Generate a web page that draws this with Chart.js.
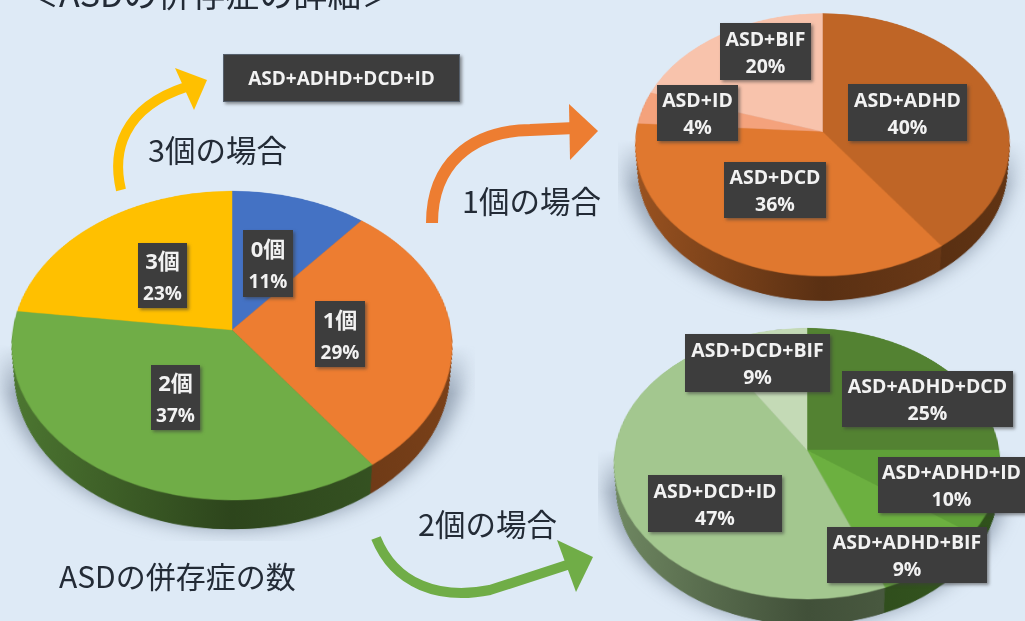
<!DOCTYPE html>
<html lang="ja">
<head>
<meta charset="utf-8">
<title>ASDの併存症</title>
<script src="https://cdn.jsdelivr.net/npm/chart.js@4"></script>
<style>
html, body { margin: 0; padding: 0; }
body {
    position: relative; width: 1025px; height: 621px; overflow: hidden;
    background: #deeaf6; font-family: "Noto Sans CJK JP", sans-serif;
}
canvas { position: absolute; }
svg { position: absolute; left: 0; top: 0; }
.txt { position: absolute; color: #232b36; white-space: nowrap; line-height: 1; }
.box {
    position: absolute; box-sizing: border-box; background: #3d3d3d; color: #f2f2f2;
    display: flex; flex-direction: column; align-items: center; justify-content: center;
    font-family: "Open Sans", "Noto Sans CJK JP", sans-serif; font-weight: 700;
    white-space: nowrap; box-shadow: 2px 2px 3px rgba(60,60,60,.55);
}
.shadowClip {
    position: absolute; overflow: hidden;
    -webkit-mask-image: linear-gradient(transparent, #000 25%);
    mask-image: linear-gradient(transparent, #000 25%);
}
.shadowClip div { position: absolute; border-radius: 50%; background: rgba(105,120,140,.6); filter: blur(9px); }
</style>
</head>
<body>
<div class="shadowClip" style="left:0;top:345px;width:475px;height:196px"><div style="left:2px;top:-150px;width:462px;height:335px"></div></div>
<div class="shadowClip" style="left:618px;top:140px;width:407px;height:180px"><div style="left:6px;top:-130px;width:390px;height:295px"></div></div>
<div class="shadowClip" style="left:598px;top:450px;width:427px;height:171px"><div style="left:6px;top:-125px;width:405px;height:300px"></div></div>

<canvas id="mainPie"></canvas>
<canvas id="onePie"></canvas>
<canvas id="twoPie"></canvas>

<svg width="1025" height="621">
    <path d="M121 190 C112 152 122 108 186 87" fill="none" stroke="#ffc000" stroke-width="10"/>
    <polygon points="175,68 207,80 194,110" fill="#ffc000"/>
    <path d="M432 223 C432 165 470 131 530 130 L575 128" fill="none" stroke="#ed7d31" stroke-width="12"/>
    <polygon points="569,104 598,131 570,160" fill="#ed7d31"/>
    <path d="M376 538 C395 585 440 600 490 590 L570 564" fill="none" stroke="#70ad47" stroke-width="10"/>
    <polygon points="557,540 593,557 576,592" fill="#70ad47"/>
</svg>

<div class="txt" style="left:25px;top:-24px;font-size:34px">＜ASDの併存症の詳細＞</div>
<div class="txt" style="left:148px;top:134px;font-size:30.5px">3個の場合</div>
<div class="txt" style="left:462px;top:185px;font-size:30.5px">1個の場合</div>
<div class="txt" style="left:418px;top:508px;font-size:30.5px">2個の場合</div>
<div class="txt" style="left:59px;top:560px;font-size:30px">ASDの併存症の数</div>
<div class="box" style="left:223px;top:54px;width:237px;height:48px;font-size:19px;border:1px solid #56606c">ASD+ADHD+DCD+ID</div>

<script>
// values
const mainLabels = ['0個', '1個', '2個', '3個'];
const mainValues = [11, 29, 37, 23];
const mainColors = ['#4472c4', '#ed7d31', '#70ad47', '#ffc000'];

const oneLabels = ['ASD+ADHD', 'ASD+DCD', 'ASD+ID', 'ASD+BIF'];
const oneValues = [40, 36, 4, 20];
const oneColors = ['#bf6526', '#e0782f', '#f4a27c', '#f8c3ac'];

const twoLabels = ['ASD+ADHD+DCD', 'ASD+ADHD+ID', 'ASD+ADHD+BIF', 'ASD+DCD+ID', 'ASD+DCD+BIF'];
const twoValues = [25, 10, 9, 47, 9];
const twoColors = ['#538232', '#5fa038', '#6cb040', '#a3c78f', '#c4dab6'];

// left, top, width, height of the dark label boxes
const mainBoxes = [[243, 230, 50, 67], [315, 301, 50, 66], [151, 365, 49, 65], [138, 243, 49, 65]];
const oneBoxes = [[848, 84, 119, 57], [724, 162, 102, 56], [657, 85, 81, 56], [720, 23, 91, 57]];
const twoBoxes = [[842, 371, 171, 56], [878, 457, 147, 56], [827, 527, 160, 56], [648, 475, 134, 57], [685, 334, 145, 58]];

function shade(hex, f) {
    const n = parseInt(hex.slice(1), 16);
    const r = Math.round((n >> 16) * f), g = Math.round(((n >> 8) & 255) * f), b = Math.round((n & 255) * f);
    return 'rgb(' + r + ',' + g + ',' + b + ')';
}

// pie wall: the slices again, stacked downwards under the top face
const wallPlugin = {
    id: 'wall',
    beforeDatasetsDraw(chart) {
        const c = chart.ctx;
        const arcs = chart.getDatasetMeta(0).data;
        const colors = chart.data.datasets[0].backgroundColor;
        const R = arcs[0].outerRadius;
        const depth = R * 0.182;
        for (let d = depth; d > 0; d -= 0.5) {
            const r = R * (1 - 0.03 * d / depth);
            arcs.forEach((a, i) => {
                const g = c.createLinearGradient(a.x - R, 0, a.x + R, 0);
                g.addColorStop(0, shade(colors[i], 0.7));
                g.addColorStop(0.5, shade(colors[i], 0.4));
                g.addColorStop(1, shade(colors[i], 0.52));
                c.fillStyle = g;
                c.beginPath();
                c.moveTo(a.x, a.y + d);
                c.arc(a.x, a.y + d, r, a.startAngle, a.endAngle);
                c.closePath();
                c.fill();
            });
        }
    }
};

function makePie(id, labels, values, colors, cx, cy, R) {
    const canvas = document.getElementById(id);
    const size = Math.ceil(2 * R * 1.25);
    canvas.width = size;
    canvas.height = size;
    canvas.style.width = size + 'px';
    canvas.style.height = size + 'px';
    canvas.style.left = (cx - size / 2) + 'px';
    canvas.style.top = (cy - size / 2) + 'px';
    canvas.style.transform = 'perspective(' + (R * 7.1) + 'px) rotateX(45.7deg)';
    new Chart(canvas, {
        type: 'pie',
        data: {
            labels: labels,
            datasets: [{ data: values, backgroundColor: colors, borderColor: colors, borderWidth: 0.5 }]
        },
        options: {
            responsive: false,
            animation: false,
            radius: R,
            layout: { padding: 0 },
            plugins: { legend: { display: false }, tooltip: { enabled: false } }
        },
        plugins: [wallPlugin]
    });
}

function addBoxes(labels, values, boxes, nameSize, valueSize, lineGap, dropText) {
    labels.forEach((label, i) => {
        const b = boxes[i];
        const el = document.createElement('div');
        el.className = 'box';
        el.style.left = b[0] + 'px';
        el.style.top = b[1] + 'px';
        el.style.width = b[2] + 'px';
        el.style.height = b[3] + 'px';
        el.style.lineHeight = lineGap + 'px';
        el.style.paddingTop = dropText + 'px';
        const name = document.createElement('span');
        name.textContent = label;
        name.style.fontSize = nameSize + 'px';
        const val = document.createElement('span');
        val.textContent = values[i] + '%';
        val.style.fontSize = valueSize + 'px';
        el.appendChild(name);
        el.appendChild(val);
        document.body.appendChild(el);
    });
}

makePie('mainPie', mainLabels, mainValues, mainColors, 232, 330, 219);
makePie('onePie', oneLabels, oneValues, oneColors, 822, 131, 186);
makePie('twoPie', twoLabels, twoValues, twoColors, 807, 450, 192);

addBoxes(mainLabels, mainValues, mainBoxes, 22, 19, 33, 3);
addBoxes(oneLabels, oneValues, oneBoxes, 19.5, 19.5, 27, 0);
addBoxes(twoLabels, twoValues, twoBoxes, 19.5, 19.5, 27, 0);
</script>
</body>
</html>
